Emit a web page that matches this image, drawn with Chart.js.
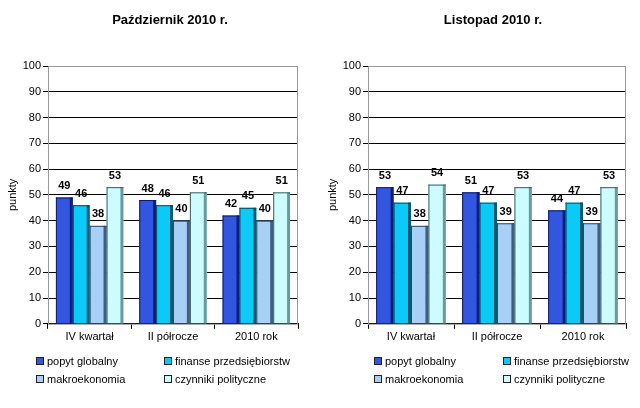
<!DOCTYPE html>
<html><head><meta charset="utf-8">
<script src="https://cdn.jsdelivr.net/npm/chart.js@4/dist/chart.umd.min.js"></script>
<style>
html,body{margin:0;padding:0;background:#fff;width:640px;height:408px;overflow:hidden;font-family:"Liberation Sans",Arial,sans-serif;}
.wrap{position:absolute;top:0;width:320px;height:408px;}
canvas{position:absolute;left:0;top:0;}
.legend{position:absolute;left:0;top:0;width:320px;height:408px;font-size:11px;color:#000;}
.li{position:absolute;white-space:nowrap;line-height:12px;}
.sw{display:inline-block;width:6px;height:6px;border:1px solid #222;margin-right:3px;vertical-align:0px;}
</style></head><body>
<div class="wrap" style="left:0"><canvas id="c1" width="320" height="408"></canvas><div class="legend" id="l1"></div></div>
<div class="wrap" style="left:320px"><canvas id="c2" width="320" height="408"></canvas><div class="legend" id="l2"></div></div>
<script>
const categories = ["IV kwartał", "II półrocze", "2010 rok"];
const seriesNames = ["popyt globalny", "finanse przedsiębiorstw", "makroekonomia", "czynniki polityczne"];
const titles = ["Październik 2010 r.", "Listopad 2010 r."];
// Październik 2010
const oct_popyt = [49, 48, 42];
const oct_finanse = [46, 46, 45];
const oct_makro = [38, 40, 40];
const oct_czynniki = [53, 51, 51];
// Listopad 2010
const nov_popyt = [53, 51, 44];
const nov_finanse = [47, 47, 47];
const nov_makro = [38, 39, 39];
const nov_czynniki = [54, 53, 53];
const yTicks = [0,10,20,30,40,50,60,70,80,90,100];

const colors = ["#3356e0", "#0ccaf8", "#a8cff6", "#ccfcfe"];
const sideColors = ["#10207a", "#0a5a74", "#3d5f80", "#6a9a9c"];
const edgeColors = ["#0c1a66", "#064a60", "#2a4a6a", "#3a5a5c"];

const FONT = "'Liberation Sans', Arial, sans-serif";

const threeD = {
  id:'threeD',
  afterDatasetsDraw(chart){
    const ctx = chart.ctx;
    chart.data.datasets.forEach((ds, di)=>{
      const meta = chart.getDatasetMeta(di);
      meta.data.forEach(bar=>{
        const w = bar.width, x0 = bar.x - w/2, x1 = bar.x + w/2;
        ctx.save();
        ctx.fillStyle = sideColors[di];
        ctx.fillRect(x1-3, bar.y, 3, bar.base - bar.y);
        ctx.fillStyle = edgeColors[di];
        ctx.fillRect(x0, bar.y, w, 1);
        ctx.fillRect(x0, bar.y, 1, bar.base - bar.y);
        ctx.restore();
      });
    });
  }
};
const labelsPlugin = {
  id:'vals',
  afterDatasetsDraw(chart){
    const ctx = chart.ctx;
    ctx.save();
    ctx.font = "bold 11px " + FONT;
    ctx.fillStyle = "#000";
    ctx.textAlign = "center";
    ctx.textBaseline = "bottom";
    chart.data.datasets.forEach((ds, di)=>{
      chart.getDatasetMeta(di).data.forEach((bar, i)=>{
        ctx.fillText(String(ds.data[i]), bar.x, bar.y - 6);
      });
    });
    ctx.restore();
  }
};
const frame = {
  id:'frame',
  beforeDatasetsDraw(chart){
    const a = chart.chartArea, ctx = chart.ctx;
    ctx.save();
    ctx.strokeStyle = "#999";
    ctx.lineWidth = 1;
    ctx.strokeRect(a.left+0.5, a.top+0.5, a.right-a.left-1, a.bottom-a.top);
    ctx.restore();
  }
};
const titlePlugin = {
  id:'ttl',
  afterDraw(chart, args, opts){
    const ctx = chart.ctx;
    ctx.save();
    ctx.font = "bold 13px " + FONT;
    ctx.fillStyle = "#000";
    ctx.textAlign = "center";
    ctx.textBaseline = "middle";
    ctx.fillText(opts.text, opts.x, 20);
    ctx.restore();
  }
};

function make(id, legendId, title, series, rightPad, titleX, legendX, col2){
  const ds = series.map((d,i)=>({label: seriesNames[i], data: d, backgroundColor: colors[i], borderWidth: 0, barPercentage: 1.0, categoryPercentage: 0.81}));
  new Chart(document.getElementById(id), {
    type:'bar',
    data:{labels: categories, datasets: ds},
    options:{
      responsive:false, animation:false, devicePixelRatio:1,
      layout:{padding:{left:4, right:rightPad, top:66, bottom:62}},
      plugins:{
        legend:{display:false}, tooltip:{enabled:false}, title:{display:false},
        ttl:{text:title, x:titleX}
      },
      scales:{
        x:{grid:{display:true, drawOnChartArea:false, color:"#000", tickLength:5, offset:true},
           border:{color:"#000"},
           ticks:{color:"#000", font:{family:FONT, size:11}, padding:2}},
        y:{min:0, max:100, afterBuildTicks(s){ s.ticks = yTicks.map(v=>({value:v})); },
           grid:{color:"#000", tickLength:5, drawTicks:true},
           border:{color:"#000"},
           title:{display:true, text:"punkty", color:"#000", font:{family:FONT, size:11}, padding:2},
           ticks:{color:"#000", font:{family:FONT, size:11}, padding:2},
           afterFit(s){ s.width = 44; }}
      }
    },
    plugins:[frame, threeD, labelsPlugin, titlePlugin]
  });
  const L = document.getElementById(legendId);
  const pos = [[legendX,355],[col2,355],[legendX,373],[col2,373]];
  seriesNames.forEach((n,i)=>{
    const d = document.createElement('div');
    d.className='li';
    d.style.left = pos[i][0]+'px'; d.style.top = pos[i][1]+'px';
    d.innerHTML = '<span class="sw" style="background:'+colors[i]+'"></span>'+n;
    L.appendChild(d);
  });
}
make('c1','l1', titles[0], [oct_popyt, oct_finanse, oct_makro, oct_czynniki], 22, 170, 36, 164);
make('c2','l2', titles[1], [nov_popyt, nov_finanse, nov_makro, nov_czynniki], 14, 173, 54, 183);
</script>
</body></html>
